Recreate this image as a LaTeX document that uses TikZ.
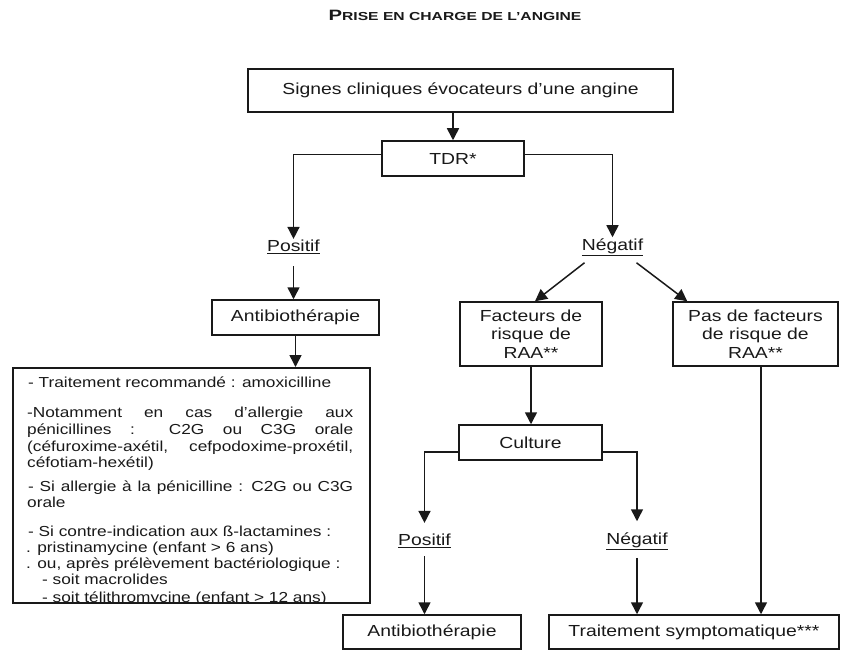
\documentclass[tikz,border=0pt]{standalone}
\usepackage{fontspec}
\setmainfont[FakeStretch=1.21]{Liberation Sans}
\newfontfamily\listf[FakeStretch=1.19]{Liberation Sans}
\newfontfamily\titlef[FakeStretch=1.35]{Liberation Sans}
\usetikzlibrary{arrows.meta,calc}
\definecolor{ink}{gray}{0.1}
\begin{document}
\begin{tikzpicture}[x=1pt,y=-1pt,
  every node/.style={text=ink},
  box/.style={draw=ink, line width=1.5pt, inner sep=0pt, font=\fontsize{16}{18.5}\selectfont, align=center},
  lbl/.style={inner sep=1pt, font=\fontsize{16}{18.5}\selectfont},
  arr/.style={draw=ink, line width=1.5pt, -{Triangle[width=12pt,length=12pt]}},
  ln/.style={anchor=base west, inner sep=0pt, font=\listf\fontsize{14.5}{16.5}\selectfont},
]
\path[use as bounding box] (0,0) rectangle (841,650);

\node[font=\titlef\bfseries] (title) at (455,15)
  {{\fontsize{15}{15}\selectfont P}{\fontsize{11.6}{12}\selectfont RISE EN CHARGE DE L’ANGINE}};

\node[box, minimum width=425, minimum height=43] (sig) at (460.5,90.5) {Signes cliniques évocateurs d’une angine};
\node[box, minimum width=142, minimum height=35] (tdr) at (453,158.5) {TDR*};
\node[lbl] (pos1) at (293.5,247) {\underline{Positif}};
\node[lbl] (neg1) at (612.5,247) {\underline{Négatif}};
\node[box, minimum width=167, minimum height=35] (ab1) at (295.5,317.5) {Antibiothérapie};
\node[box, minimum width=357, minimum height=235, anchor=north west] (list) at (12,367) {};
\node[box, minimum width=142, minimum height=64] (fact) at (531,334) {Facteurs de\\risque de\\RAA**};
\node[box, minimum width=165, minimum height=64] (pas) at (755.5,334) {Pas de facteurs\\de risque de\\RAA**};
\node[box, minimum width=143, minimum height=35] (cult) at (530.5,442.5) {Culture};
\node[lbl] (pos2) at (424.5,541) {\underline{Positif}};
\node[lbl] (neg2) at (637,541) {\underline{Négatif}};
\node[box, minimum width=178, minimum height=34] (ab2) at (432,632) {Antibiothérapie};
\node[box, minimum width=290, minimum height=34] (ts) at (694,632) {Traitement symptomatique***};

\begin{scope}
\clip ($(list.north west)+(1,1)$) rectangle ($(list.south east)+(-1,-1.4)$);
\node[ln] (l1) at (28,387) {- Traitement recommandé : amoxicilline};
\node[ln] (l2) at (27,417) {\makebox[326pt][s]{-Notamment en cas d’allergie aux}};
\node[ln] (l3) at (27,434) {\makebox[326pt][s]{pénicillines : C2G ou C3G orale}};
\node[ln] (l4) at (27,451) {\makebox[326pt][s]{(céfuroxime-axétil, cefpodoxime-proxétil,}};
\node[ln] (l5) at (27,467) {céfotiam-hexétil)};
\node[ln] (l6) at (28,491) {\makebox[325pt][s]{- Si allergie à la pénicilline : C2G ou C3G}};
\node[ln] (l7) at (27,507) {orale};
\node[ln] (l8) at (28,536) {- Si contre-indication aux ß-lactamines :};
\node[ln] (l9) at (26,552) {. pristinamycine (enfant > 6 ans)};
\node[ln] (l10) at (26,568) {. ou, après prélèvement bactériologique :};
\node[ln] (l11) at (42,584) {- soit macrolides};
\node[ln] (l12) at (42,602) {- soit télithromycine (enfant > 12 ans)};
\end{scope}

\draw[arr] (sig.south -| tdr.north) -- (tdr.north);
\draw[arr] ($(tdr.west)+(0,-4)$) -| (pos1.north);
\draw[arr] ($(tdr.east)+(0,-4)$) -| (neg1.north);
\draw[arr, shorten <=11pt] (pos1.south) -- (pos1.south |- ab1.north);
\draw[arr] (ab1.south) -- (ab1.south |- list.north);
\draw[arr] ($(neg1.south)+(-28,6)$) -- ($(fact.north)+(4,0)$);
\draw[arr] ($(neg1.south)+(24,6)$) -- ($(pas.north west)+(15,0)$);
\draw[arr] (fact.south) -- (fact.south |- cult.north);
\draw[arr, shorten >=10pt] ($(cult.west)+(0,9.5)$) -| (pos2.north);
\draw[arr, shorten >=10pt] ($(cult.east)+(0,9.5)$) -| (neg2.north);
\draw[arr, shorten <=7pt] (pos2.south) -- (pos2.south |- ab2.north);
\draw[arr, shorten <=7pt] (neg2.south) -- (neg2.south |- ts.north);
\coordinate (pasout) at ($(pas.south)+(5.5,0)$);
\draw[arr] (pasout) -- (pasout |- ts.north);
\end{tikzpicture}
\end{document}
